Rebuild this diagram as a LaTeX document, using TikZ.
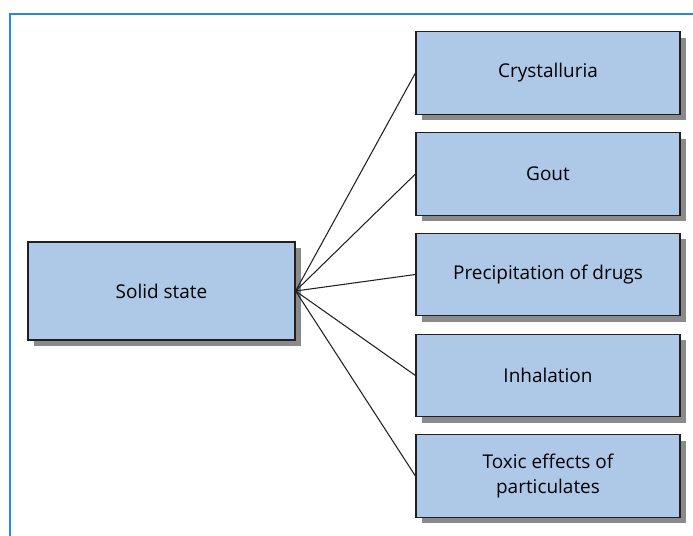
\documentclass[tikz,border=0pt]{standalone}
\usepackage{fontspec}
\setmainfont{Open Sans}
\usetikzlibrary{positioning, shadows}
\definecolor{cfill}{HTML}{AEC8E8}
\definecolor{cshadow}{HTML}{8A8A8A}
\definecolor{cframe}{HTML}{2E8BCB}
\definecolor{cline}{HTML}{231F20}
\tikzset{
  every picture/.style={font=\fontsize{10.8}{14.5}\selectfont},
  box/.style={draw=cline, fill=cfill, line width=0.7pt, align=center, inner sep=0pt,
    general shadow={fill=cshadow, shadow xshift=0.12cm, shadow yshift=-0.12cm}},
  leaf/.style={box, minimum width=5.28cm, minimum height=1.65cm},
  link/.style={draw=cline, line width=0.6pt},
  frame/.style={draw=cframe, line width=1.1pt},
}
\begin{document}
\begin{tikzpicture}[x=0.02cm, y=-0.02cm]
  \useasboundingbox (0, 0) rectangle (693, 536);
  \draw[frame] (10, 536) |- (693, 14);

  \node[box, minimum width=5.34cm, minimum height=1.96cm] (solid) at (161.5, 291) {Solid state};

  \node[leaf] (cry) at (548, 73) {Crystalluria};
  \node[leaf] (gout) at (548, 174) {Gout};
  \node[leaf] (prec) at (548, 274.5) {Precipitation of drugs};
  \node[leaf] (inh) at (548, 375.5) {Inhalation};
  \node[leaf] (tox) at (548, 476) {Toxic effects of\\particulates};

  \draw[link] (solid.east) -- (cry.west);
  \draw[link] (solid.east) -- (gout.west);
  \draw[link] (solid.east) -- (prec.west);
  \draw[link] (solid.east) -- (inh.west);
  \draw[link] (solid.east) -- (tox.west);
\end{tikzpicture}
\end{document}
